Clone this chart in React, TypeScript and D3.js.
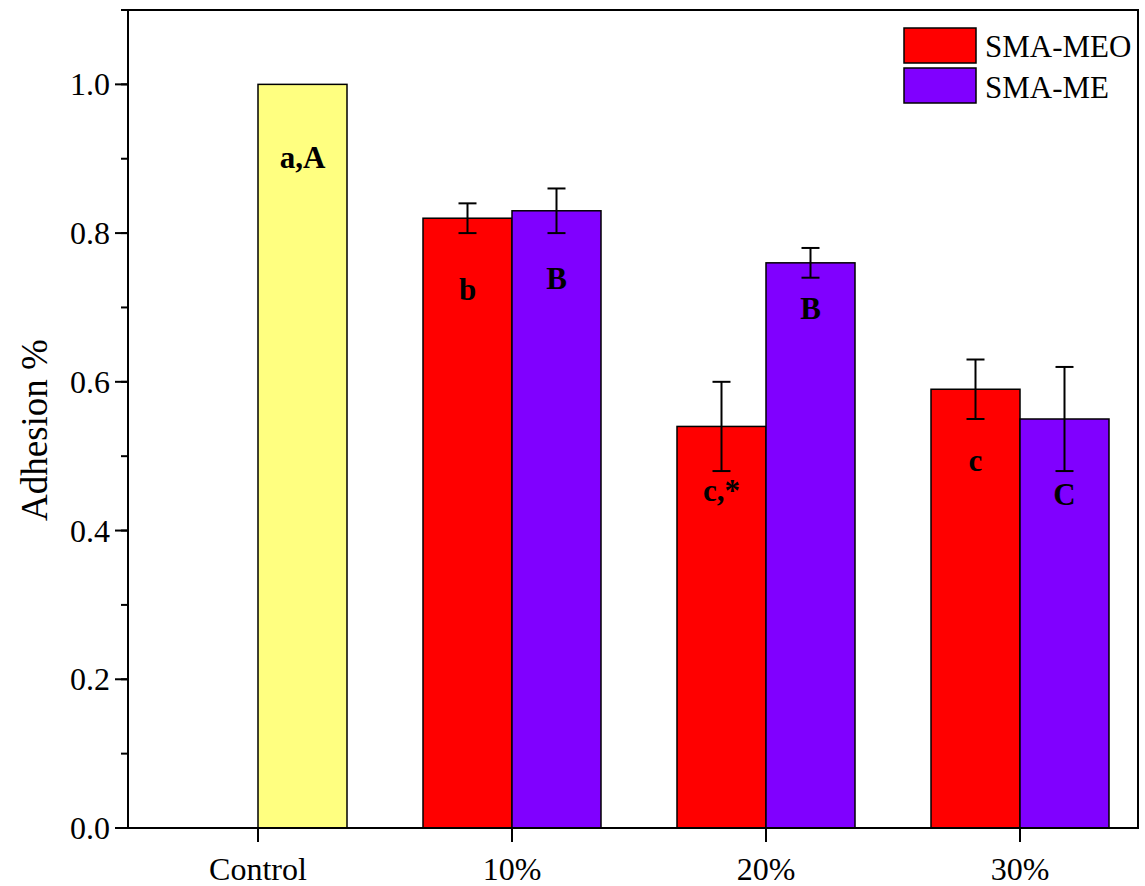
import * as d3 from "d3";

const categories = ["Control", "10%", "20%", "30%"];
const controlValue = 1.0;
const controlLabel = "a,A";
const meoValues = [null, 0.82, 0.54, 0.59];
const meoErrors = [null, 0.02, 0.06, 0.04];
const meoLabels = ["", "b", "c,*", "c"];
const meoLabelY = [0, 0.71, 0.44, 0.48];
const meValues = [null, 0.83, 0.76, 0.55];
const meErrors = [null, 0.03, 0.02, 0.07];
const meLabels = ["", "B", "B", "C"];
const meLabelY = [0, 0.725, 0.685, 0.435];
const yTicks = [0, 0.2, 0.4, 0.6, 0.8, 1.0];

const W = 1145, H = 886;
const left = 128, right = 1138, top = 10, bottom = 828;
const font = "'Liberation Serif', 'Times New Roman', serif";

export default function App() {
  const y = d3.scaleLinear().domain([0, 1.1]).range([bottom, top]);
  const x = d3.scalePoint<string>().domain(categories).range([258, 1020]);
  const bw = 89;
  const minor = d3.range(0, 1.101, 0.1);

  const bar = (cx: number, v: number, fill: string, key: string) => (
    <rect key={key} x={cx} y={y(v)} width={bw} height={bottom - y(v)} fill={fill} stroke="#000" strokeWidth={1.5} />
  );
  const err = (cx: number, v: number, e: number, key: string) => (
    <g key={key} stroke="#000" strokeWidth={2}>
      <line x1={cx} x2={cx} y1={y(v + e)} y2={y(v - e)} />
      <line x1={cx - 9} x2={cx + 9} y1={y(v + e)} y2={y(v + e)} />
      <line x1={cx - 9} x2={cx + 9} y1={y(v - e)} y2={y(v - e)} />
    </g>
  );
  const label = (cx: number, v: number, t: string, key: string) => (
    <text key={key} x={cx} y={y(v)} textAnchor="middle" fontSize={31} fontWeight="bold" fontFamily={font}>{t}</text>
  );

  return (
    <svg width={W} height={H} style={{ position: "absolute", left: 0, top: 0 }}>
      <rect width={W} height={H} fill="#fff" />
      {bar(x("Control")!, controlValue, "#ffff80", "c")}
      {label(x("Control")! + bw / 2, 0.888, controlLabel, "cl")}
      {categories.map((c, i) => {
        const t = x(c)!;
        const mv = meoValues[i], me = meValues[i];
        if (mv == null || me == null) return null;
        return (
          <g key={c}>
            {bar(t - bw, mv, "#ff0000", "r")}
            {bar(t, me, "#8000ff", "p")}
            {err(t - bw / 2, mv, meoErrors[i]!, "re")}
            {err(t + bw / 2, me, meErrors[i]!, "pe")}
            {label(t - bw / 2, meoLabelY[i], meoLabels[i], "rl")}
            {label(t + bw / 2, meLabelY[i], meLabels[i], "pl")}
          </g>
        );
      })}
      <rect x={left} y={top} width={right - left} height={bottom - top} fill="none" stroke="#000" strokeWidth={2} />
      {minor.map((v) => (
        <line key={v} x1={left - 7} x2={left} y1={y(v)} y2={y(v)} stroke="#000" strokeWidth={2} />
      ))}
      {yTicks.map((v) => (
        <g key={v}>
          <line x1={left - 13} x2={left} y1={y(v)} y2={y(v)} stroke="#000" strokeWidth={2} />
          <text x={left - 18} y={y(v) + 11} textAnchor="end" fontSize={32} fontFamily={font}>{d3.format(".1f")(v)}</text>
        </g>
      ))}
      {categories.map((c) => (
        <g key={c}>
          <line x1={x(c)} x2={x(c)} y1={bottom} y2={bottom + 14} stroke="#000" strokeWidth={2} />
          <text x={x(c)} y={bottom + 52} textAnchor="middle" fontSize={32} fontFamily={font}>{c}</text>
        </g>
      ))}
      <text transform={`translate(47,${430}) rotate(-90)`} textAnchor="middle" fontSize={37} fontFamily={font}>Adhesion %</text>
      <rect x={904} y={28} width={72} height={35} fill="#ff0000" stroke="#000" strokeWidth={1.5} />
      <rect x={904} y={68} width={72} height={35} fill="#8000ff" stroke="#000" strokeWidth={1.5} />
      <text x={985} y={57} fontSize={31} fontFamily={font}>SMA-MEO</text>
      <text x={985} y={98} fontSize={31} fontFamily={font}>SMA-ME</text>
    </svg>
  );
}
